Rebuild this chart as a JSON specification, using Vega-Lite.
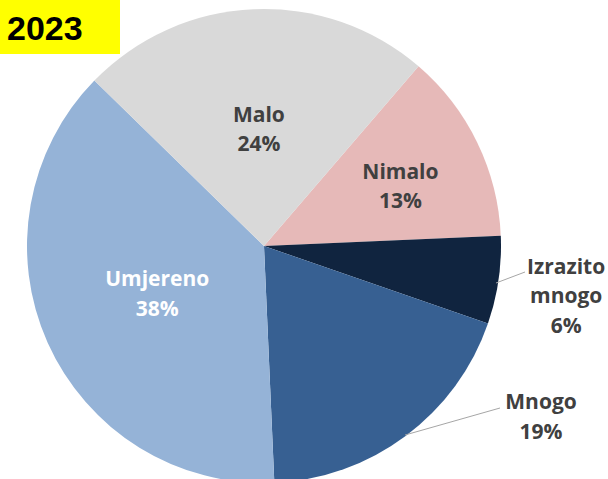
{
  "$schema": "https://vega.github.io/schema/vega-lite/v6.json",
  "width": 528,
  "height": 466,
  "autosize": {"type": "none"},
  "padding": {"left": 0, "right": 80, "top": 13, "bottom": 0},
  "background": "white",
  "config": {"view": {"stroke": null}},
  "data": {
    "values": [
      {"cat": "Nimalo", "value": 13, "order": 1, "label": "Nimalo\n13%"},
      {"cat": "Izrazito mnogo", "value": 6, "order": 2, "label": "Izrazito\nmnogo\n6%"},
      {"cat": "Mnogo", "value": 19, "order": 3, "label": "Mnogo\n19%"},
      {"cat": "Umjereno", "value": 38, "order": 4, "label": "Umjereno\n38%"},
      {"cat": "Malo", "value": 24, "order": 5, "label": "Malo\n24%"}
    ]
  },
  "layer": [
    {
      "encoding": {
        "theta": {"field": "value", "type": "quantitative", "stack": true, "scale": {"range": [0.7103, 6.9935]}},
        "order": {"field": "order", "type": "quantitative"}
      },
      "layer": [
        {
          "mark": {"type": "arc", "radius": 237},
          "encoding": {
            "color": {
              "field": "cat", "type": "nominal", "legend": null,
              "scale": {
                "domain": ["Nimalo", "Izrazito mnogo", "Mnogo", "Umjereno", "Malo"],
                "range": ["#E6B9B8", "#10243F", "#376092", "#95B3D7", "#D9D9D9"]
              }
            }
          }
        },
        {
          "mark": {"type": "text", "radius": 117, "dy": -13.5, "font": "Open Sans", "fontWeight": "bold", "fontSize": 21, "lineBreak": "\n", "lineHeight": 29.5, "baseline": "middle", "align": "center", "color": "#404040"},
          "encoding": {"text": {"condition": {"test": "datum.cat === 'Malo'", "field": "label"}, "value": ""}}
        },
        {
          "mark": {"type": "text", "radius": 117, "dy": -13.5, "font": "Open Sans", "fontWeight": "bold", "fontSize": 21, "lineBreak": "\n", "lineHeight": 29.5, "baseline": "middle", "align": "center", "color": "#FFFFFF"},
          "encoding": {"text": {"condition": {"test": "datum.cat === 'Umjereno'", "field": "label"}, "value": ""}}
        },
        {
          "mark": {"type": "text", "radius": 149, "thetaOffset": 0.038, "dy": -13.5, "font": "Open Sans", "fontWeight": "bold", "fontSize": 21, "lineBreak": "\n", "lineHeight": 29.5, "baseline": "middle", "align": "center", "color": "#404040"},
          "encoding": {"text": {"condition": {"test": "datum.cat === 'Nimalo'", "field": "label"}, "value": ""}}
        },
        {
          "mark": {"type": "text", "radius": 306, "thetaOffset": 0.014, "dy": -26.5, "font": "Open Sans", "fontWeight": "bold", "fontSize": 21, "lineBreak": "\n", "lineHeight": 29.5, "baseline": "middle", "align": "center", "color": "#404040"},
          "encoding": {"text": {"condition": {"test": "datum.cat === 'Izrazito mnogo'", "field": "label"}, "value": ""}}
        },
        {
          "mark": {"type": "text", "radius": 325, "thetaOffset": -0.38, "dy": -12.5, "font": "Open Sans", "fontWeight": "bold", "fontSize": 21, "lineBreak": "\n", "lineHeight": 29.5, "baseline": "middle", "align": "center", "color": "#404040"},
          "encoding": {"text": {"condition": {"test": "datum.cat === 'Mnogo'", "field": "label"}, "value": ""}}
        }
      ]
    },
    {
      "data": {"values": [{"leader": "Izrazito mnogo"}]},
      "mark": {"type": "rule", "color": "#A6A6A6", "strokeWidth": 1},
      "encoding": {"x": {"value": 496}, "y": {"value": 270}, "x2": {"value": 525}, "y2": {"value": 259}}
    },
    {
      "data": {"values": [{"leader": "Mnogo"}]},
      "mark": {"type": "rule", "color": "#A6A6A6", "strokeWidth": 1},
      "encoding": {"x": {"value": 405}, "y": {"value": 422}, "x2": {"value": 500}, "y2": {"value": 395}}
    },
    {
      "data": {"values": [{"title": "2023"}]},
      "mark": {"type": "rect", "x": 0, "x2": 120, "y": -13, "y2": 41, "color": "#FFFF00"},
      "encoding": {}
    },
    {
      "data": {"values": [{"title": "2023"}]},
      "mark": {"type": "text", "x": 7, "y": 27, "align": "left", "baseline": "alphabetic", "font": "Liberation Sans", "fontWeight": "bold", "fontSize": 34, "color": "#000000"},
      "encoding": {"text": {"field": "title"}}
    }
  ]
}
